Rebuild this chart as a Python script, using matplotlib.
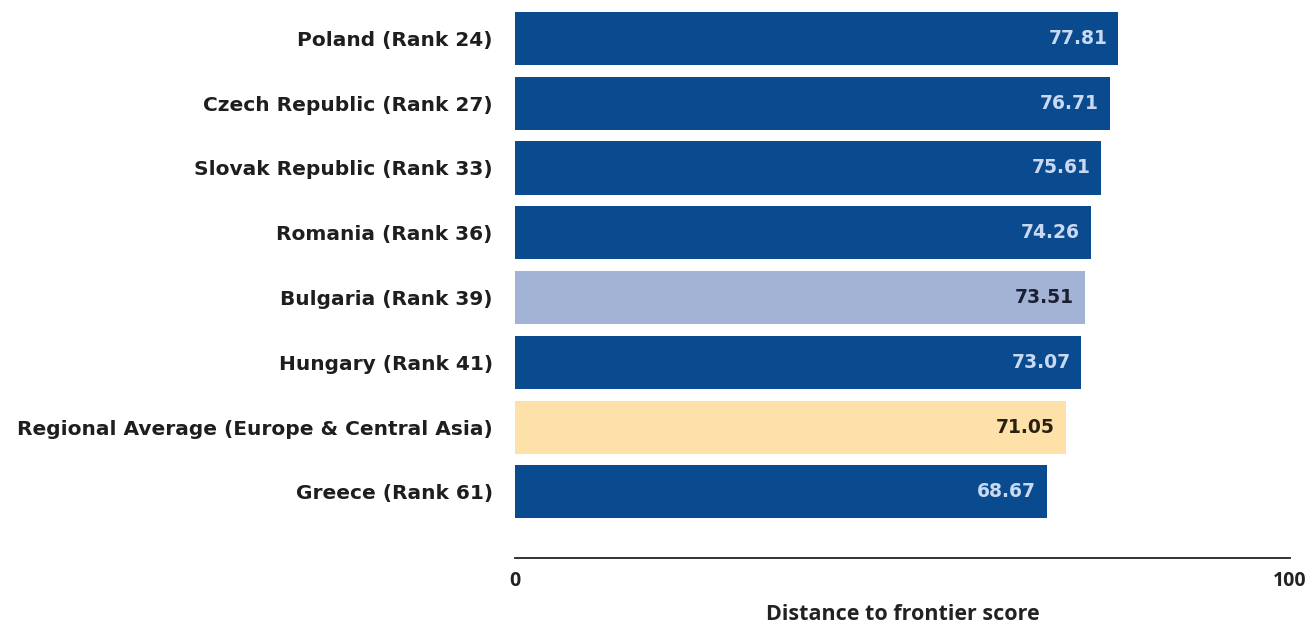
import matplotlib
matplotlib.use("Agg")
import matplotlib.pyplot as plt

# Ease of doing business: distance to frontier scores
labels = [
    "Poland (Rank 24)",
    "Czech Republic (Rank 27)",
    "Slovak Republic (Rank 33)",
    "Romania (Rank 36)",
    "Bulgaria (Rank 39)",
    "Hungary (Rank 41)",
    "Regional Average (Europe & Central Asia)",
    "Greece (Rank 61)",
]
scores = [77.81, 76.71, 75.61, 74.26, 73.51, 73.07, 71.05, 68.67]
kinds = ["country", "country", "country", "country", "focus", "country", "average", "country"]

bar_colors = {"country": "#0a4b8f", "focus": "#a3b3d5", "average": "#fde1a9"}
text_colors = {"country": "#c9d9f2", "focus": "#1b1f33", "average": "#2a2012"}

fig = plt.figure(figsize=(13.14, 6.24), dpi=100)
ax = fig.add_axes([515 / 1314, 1 - 558 / 624, (1290 - 515) / 1314, (558 - 6) / 624])

ypos = list(range(len(labels)))
ax.barh(ypos, scores, height=0.82,
        color=[bar_colors[k] for k in kinds], edgecolor="none")

for y, v, k in zip(ypos, scores, kinds):
    ax.text(v - 1.4, y, f"{v:.2f}", ha="right", va="center",
            fontsize=13.5, fontweight="bold", color=text_colors[k],
            family="DejaVu Sans")

ax.set_xlim(0, 100)
ax.set_ylim(8.02, -0.5)
ax.set_yticks(ypos)
ax.set_yticklabels(labels, fontsize=14.5, fontweight="bold", color="#1e1e1e",
                   family="DejaVu Sans")
ax.set_xticks([0, 100])
ax.set_xticklabels(["0", "100"], fontsize=14, fontweight="bold", color="#222222",
                   family="Open Sans")
ax.tick_params(axis="both", length=0)
ax.tick_params(axis="y", pad=16)
ax.tick_params(axis="x", pad=9)
for side in ("top", "right", "left"):
    ax.spines[side].set_visible(False)
ax.spines["bottom"].set_linewidth(1.3)
ax.spines["bottom"].set_color("#222222")
ax.set_xlabel("Distance to frontier score", fontsize=15.5, fontweight="bold",
              color="#222222", family="Open Sans", labelpad=10)

fig.savefig("out.png", dpi=100, facecolor="white")
